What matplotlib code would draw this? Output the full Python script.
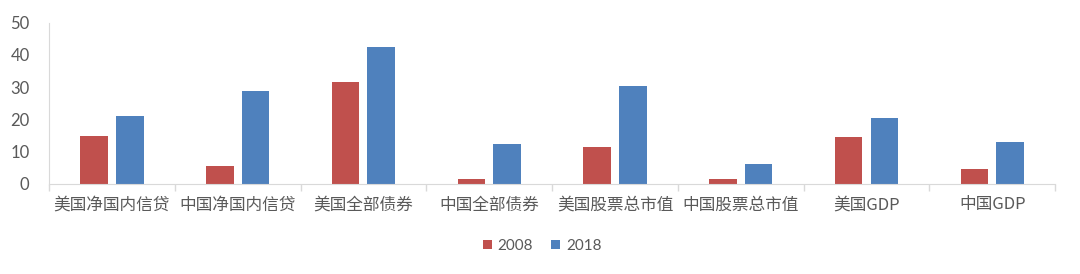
import matplotlib
matplotlib.use("Agg")
import matplotlib.pyplot as plt
import numpy as np

categories = ["美国净国内信贷", "中国净国内信贷", "美国全部债券", "中国全部债券",
              "美国股票总市值", "中国股票总市值", "美国GDP", "中国GDP"]
series_names = ["2008", "2018"]
values_2008 = [15.0, 5.7, 31.5, 1.6, 11.6, 1.7, 14.7, 4.8]
values_2018 = [21.0, 28.8, 42.6, 12.4, 30.3, 6.2, 20.5, 13.0]
colors = ["#C0504D", "#4F81BD"]
yticks = [0, 10, 20, 30, 40, 50]

plt.rcParams['font.family'] = ['Noto Sans CJK SC', 'DejaVu Sans']

fig = plt.figure(figsize=(10.8, 2.74), dpi=100)
ax = fig.add_axes([0.0454, 0.3285, 0.9316, 0.5887])

x = np.arange(len(categories))
w = 0.22
off = 0.142
ax.bar(x - off, values_2008, w, color=colors[0], label=series_names[0])
ax.bar(x + off, values_2018, w, color=colors[1], label=series_names[1])

ax.set_xlim(-0.5, len(categories) - 0.5)
ax.set_ylim(0, 50)
ax.set_yticks(yticks)
ax.set_yticklabels([str(t) for t in yticks], fontfamily='Lato', fontsize=12, color='#595959')
ax.tick_params(axis='y', length=0, pad=14)

ax.set_xticks(x)
ax.set_xticklabels(categories, fontsize=12, color='#595959')
ax.tick_params(axis='x', length=0, pad=9)
ax.set_xticks(np.arange(len(categories) + 1) - 0.5, minor=True)
ax.tick_params(axis='x', which='minor', length=5, color='#D9D9D9', width=1)

for s in ['top', 'right']:
    ax.spines[s].set_visible(False)
for s in ['left', 'bottom']:
    ax.spines[s].set_color('#D9D9D9')

leg = fig.legend(loc='center', bbox_to_anchor=(0.502, 1 - 246 / 274), ncol=2, frameon=False,
                 handlelength=0.6, handleheight=0.6, handletextpad=0.35, columnspacing=1.2,
                 prop={'family': 'Lato', 'size': 11})
for t in leg.get_texts():
    t.set_color('#595959')

fig.savefig("out.png", dpi=100)
